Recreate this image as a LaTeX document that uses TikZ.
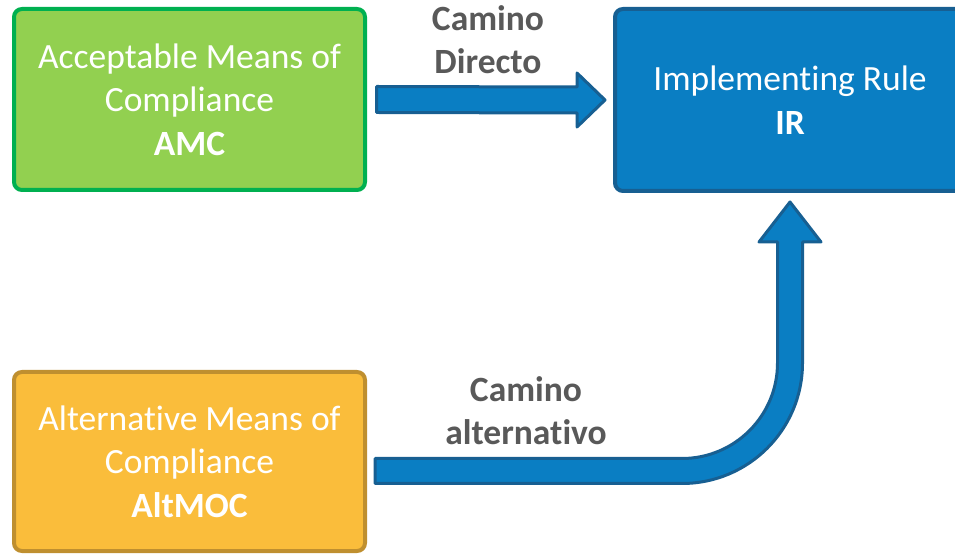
\documentclass[tikz,border=0pt]{standalone}
\usepackage{fontspec}
\setmainfont{Carlito}[RawFeature=-liga]
\usetikzlibrary{calc}
\definecolor{amcfill}{HTML}{92D050}
\definecolor{amcline}{HTML}{00B050}
\definecolor{altfill}{HTML}{FABD3B}
\definecolor{altline}{HTML}{BF8F2F}
\definecolor{irfill}{HTML}{0A7EC3}
\definecolor{irline}{HTML}{175F92}
\definecolor{lblgray}{HTML}{595959}
\tikzset{
  box/.style={draw, line width=4pt, rounded corners=8pt, align=center,
    text=white, font=\fontsize{35.5}{43.5}\selectfont, inner sep=0pt},
  blockarrow/.style={draw=irline, fill=irfill, line width=3pt, line join=round},
  pathlabel/.style={align=center, text=lblgray, font=\fontsize{35.5}{43}\selectfont\bfseries, inner sep=0pt}
}
\begin{document}
\begin{tikzpicture}[x=1pt,y=1pt]
\useasboundingbox (0,0) rectangle (955,554);
\clip (0,0) rectangle (955,554);
% boxes
\node[box, fill=amcfill, draw=amcline, minimum width=351pt, minimum height=181pt] (amc) at (189.5,454.5)
  {Acceptable Means of\\Compliance\\\textbf{AMC}};
\node[box, fill=altfill, draw=altline, minimum width=351pt, minimum height=179pt] (alt) at (189.5,92.5)
  {Alternative Means of\\Compliance\\\textbf{AltMOC}};
\node[box, fill=irfill, draw=irline, minimum width=350pt, minimum height=182pt] (ir) at (790,454)
  {Implementing Rule\\\textbf{IR}};
% labels
\node[pathlabel] (lbl1) at (488,514) {Camino\\Directo};
\node[pathlabel] (lbl2) at (526,143) {Camino\\alternativo};
% straight arrow amc -> ir
\coordinate (a1s) at ($(amc.east)+(9.5,0)$);
\coordinate (a1t) at ($(ir.west)+(-8,0)$);
\draw[blockarrow] ($(a1s)+(0,-13)$) -- ($(a1t)+(-28,-13)$) -- ($(a1t)+(-28,-27)$) -- (a1t)
  -- ($(a1t)+(-28,27)$) -- ($(a1t)+(-28,13)$) -- ($(a1s)+(0,13)$) -- cycle;
% curved arrow alt -> ir
\coordinate (a2s) at (375,83);
\coordinate (a2t) at (790,352);
\draw[blockarrow] (375,70.5) -- (682,70.5) arc[start angle=-90, end angle=0, radius=120.5]
  -- (802.5,312) -- (821,312) -- (a2t) -- (759,312) -- (777.5,312) -- (777.5,191)
  arc[start angle=0, end angle=-90, radius=95.5] -- (375,95.5) -- cycle;
\end{tikzpicture}
\end{document}
